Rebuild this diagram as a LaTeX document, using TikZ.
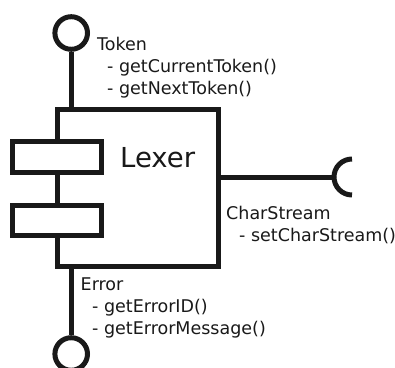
\documentclass[tikz,border=0pt]{standalone}
\usepackage{fontspec}
\setmainfont{DejaVu Sans}
\begin{document}
\begin{tikzpicture}[x=1pt,y=-1pt,
  thick line/.style={line width=5pt,draw=black!90},
  comp/.style={thick line,fill=white,rectangle,inner sep=0pt},
  iface/.style={thick line,fill=white,circle,inner sep=0pt,minimum size=32.6pt},
  lbl/.style={inner sep=0pt,anchor=base west,font=\fontsize{17.5}{22}\selectfont,text=black!90}
]
\useasboundingbox (0,0) rectangle (395,367);
\clip (0,0) rectangle (395,367);
% main component
\node[comp,minimum width=160.8pt,minimum height=156.9pt] (lexer) at (137.9,188.25) {};
\node[comp,minimum width=89.2pt,minimum height=31pt] (port1) at (57.1,157) {};
\node[comp,minimum width=89.2pt,minimum height=30pt] (port2) at (57.1,220) {};
\node[inner sep=0pt,anchor=base west,font=\fontsize{27.5}{30}\selectfont,text=black!90] (lexerlbl) at (120,167.3) {Lexer};
% Token interface
\node[iface] (tokc) at (71.2,33) {};
\draw[thick line] (tokc) -- (tokc |- lexer.north);
\node[lbl] (tok) at (97,50) {Token};
\node[lbl] (tok1) at (107,72.5) {- getCurrentToken()};
\node[lbl] (tok2) at (107,94.5) {- getNextToken()};
% Error interface
\node[iface] (errc) at (71.2,354) {};
\draw[thick line] (errc) -- (errc |- lexer.south);
\node[lbl] (err) at (80.5,290) {Error};
\node[lbl] (err1) at (92,312.5) {- getErrorID()};
\node[lbl] (err2) at (92,334.5) {- getErrorMessage()};
% CharStream required interface
\coordinate (sock) at (334,177);
\draw[thick line] (lexer.east |- sock) -- (sock);
\draw[thick line] (sock) arc[start angle=180,end angle=270,radius=18pt];
\draw[thick line] (sock) arc[start angle=180,end angle=90,radius=18pt];
\node[lbl] (cs) at (226,219.5) {CharStream};
\node[lbl] (cs1) at (239,241.5) {- setCharStream()};
\end{tikzpicture}
\end{document}
